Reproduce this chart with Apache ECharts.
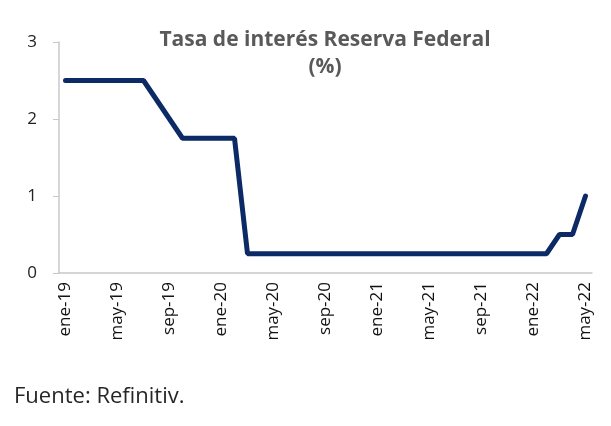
<!DOCTYPE html>
<html lang="es">

<head>
    <meta charset="UTF-8">
    <title>Tasa de interés Reserva Federal</title>
    <style>
        * {
            margin: 0;
            padding: 0;
        }

        body {
            background-color: #fff;
        }

        #chart {
            width: 611px;
            height: 426px;
        }
    </style>
</head>

<body>
    <div id="chart"></div>
    <script src="https://cdn.jsdelivr.net/npm/echarts@6/dist/echarts.min.js"></script>
    <script>
        // meses ene-19 .. may-22
        var months = [
            'ene-19', 'feb-19', 'mar-19', 'abr-19', 'may-19', 'jun-19', 'jul-19', 'ago-19', 'sep-19', 'oct-19', 'nov-19', 'dic-19',
            'ene-20', 'feb-20', 'mar-20', 'abr-20', 'may-20', 'jun-20', 'jul-20', 'ago-20', 'sep-20', 'oct-20', 'nov-20', 'dic-20',
            'ene-21', 'feb-21', 'mar-21', 'abr-21', 'may-21', 'jun-21', 'jul-21', 'ago-21', 'sep-21', 'oct-21', 'nov-21', 'dic-21',
            'ene-22', 'feb-22', 'mar-22', 'abr-22', 'may-22'
        ];
        // tasa (%)
        var rate = [
            2.5, 2.5, 2.5, 2.5, 2.5, 2.5, 2.5, 2.25, 2.0, 1.75, 1.75, 1.75,
            1.75, 1.75, 0.25, 0.25, 0.25, 0.25, 0.25, 0.25, 0.25, 0.25, 0.25, 0.25,
            0.25, 0.25, 0.25, 0.25, 0.25, 0.25, 0.25, 0.25, 0.25, 0.25, 0.25, 0.25,
            0.25, 0.25, 0.5, 0.5, 1.0
        ];
        var yTicks = [0, 1, 2, 3];

        var myChart = echarts.init(document.getElementById('chart'));

        var option = {
            backgroundColor: '#fff',
            animation: false,
            textStyle: {
                fontFamily: 'Open Sans'
            },
            grid: {
                left: 59,
                right: 19,
                top: 42,
                bottom: 153
            },
            graphic: [
                {
                    type: 'text',
                    x: 325,
                    y: 27,
                    style: {
                        text: 'Tasa de interés Reserva Federal\n(%)',
                        align: 'center',
                        verticalAlign: 'top',
                        lineHeight: 27,
                        fill: '#595959',
                        font: 'bold 21px "Open Sans"'
                    }
                },
                {
                    type: 'text',
                    x: 14,
                    y: 386,
                    style: {
                        text: 'Fuente: Refinitiv.',
                        verticalAlign: 'top',
                        fill: '#262626',
                        font: '22px "Open Sans"'
                    }
                }
            ],
            xAxis: {
                type: 'category',
                data: months,
                boundaryGap: true,
                axisLine: {
                    lineStyle: { color: '#c8c8c8', width: 1.5 }
                },
                axisTick: {
                    interval: 1,
                    length: 5,
                    lineStyle: { color: '#c8c8c8' }
                },
                axisLabel: {
                    interval: 3,
                    rotate: 90,
                    margin: 9,
                    color: '#111',
                    fontSize: 17
                },
                splitLine: { show: false }
            },
            yAxis: {
                type: 'value',
                min: yTicks[0],
                max: yTicks[yTicks.length - 1],
                interval: 1,
                axisLine: {
                    show: true,
                    lineStyle: { color: '#c8c8c8', width: 1.5 }
                },
                axisTick: {
                    show: true,
                    length: 6,
                    lineStyle: { color: '#c8c8c8' }
                },
                axisLabel: {
                    margin: 22,
                    color: '#222',
                    fontSize: 17
                },
                splitLine: { show: false }
            },
            series: [{
                type: 'line',
                data: rate,
                symbol: 'none',
                lineStyle: {
                    color: '#0b2a66',
                    width: 5,
                    cap: 'round'
                }
            }]
        };

        myChart.setOption(option);
    </script>
</body>

</html>
